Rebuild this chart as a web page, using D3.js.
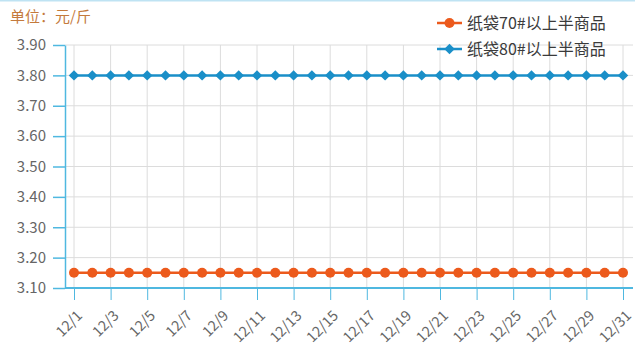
<!DOCTYPE html>
<html>
<head>
<meta charset="utf-8">
<script src="https://cdn.jsdelivr.net/npm/d3@7"></script>
<style>
  body { margin: 0; background: #fff; }
  text { font-family: "Noto Sans CJK SC", "Noto Sans", sans-serif; }
</style>
</head>
<body>
<div class="chart"></div>
<script>
// days of December
const days = d3.range(1, 32);
const labels = days.map(d => "12/" + d);
const tickDays = days.filter(d => d % 2 === 1);
const series70 = days.map(() => 3.15);
const series80 = days.map(() => 3.80);
const yTicks = [3.10, 3.20, 3.30, 3.40, 3.50, 3.60, 3.70, 3.80, 3.90];
const seriesNames = ["纸袋70#以上半商品", "纸袋80#以上半商品"];
const colors = ["#ec5a1c", "#1a8fc8"];

const W = 635, H = 353;
const svg = d3.select('.chart')
    .append('svg')
    .attr("width", W)
    .attr("height", H);

const x = d3.scaleLinear().domain([1, 31]).range([74, 623]);
const y = d3.scaleLinear().domain([3.10, 3.90]).range([288, 45]);

// faint top border
svg.append("line").attr("x1", 0).attr("x2", W).attr("y1", 0.5).attr("y2", 0.5)
    .attr("stroke", "#bfe3f3").attr("stroke-width", 2);

// unit label
svg.append("text").attr("x", 10).attr("y", 22).attr("font-size", 15)
    .attr("fill", "#c47a3c").text("单位：元/斤");

// grid
svg.append("g").selectAll("line").data(yTicks.slice(1)).enter().append("line")
    .attr("x1", 65).attr("x2", 633)
    .attr("y1", d => y(d)).attr("y2", d => y(d))
    .attr("stroke", "#dcdcdc");
svg.append("g").selectAll("line").data(tickDays).enter().append("line")
    .attr("x1", d => x(d)).attr("x2", d => x(d))
    .attr("y1", 45).attr("y2", 288)
    .attr("stroke", "#dcdcdc");

// y axis
const yAxis = svg.append("g").attr("transform", "translate(65,0)")
    .call(d3.axisLeft(y).tickValues(yTicks).tickFormat(d3.format(".2f")).tickSize(12).tickSizeOuter(0));
yAxis.select(".domain").attr("stroke", "#4fb8e0").attr("stroke-width", 1.5);
yAxis.selectAll(".tick line").attr("stroke", "#4fb8e0").attr("stroke-width", 1.5);
yAxis.selectAll(".tick text").attr("font-size", 15).attr("fill", "#666")
    .attr("font-family", "'Noto Sans', sans-serif").attr("x", -19);

// x axis
const xAxis = svg.append("g").attr("transform", "translate(0,288)")
    .call(d3.axisBottom(x).tickValues(tickDays).tickFormat(d => labels[d - 1]).tickSize(12).tickSizeOuter(0));
xAxis.select(".domain").attr("d", "M65,0H633").attr("stroke", "#4fb8e0").attr("stroke-width", 2);
xAxis.selectAll(".tick line").attr("stroke", "#4fb8e0").attr("stroke-width", 1);
xAxis.selectAll(".tick text").attr("font-size", 14.5).attr("fill", "#666")
    .attr("font-family", "'Noto Sans', sans-serif")
    .attr("text-anchor", "end").attr("dy", "0.35em")
    .attr("transform", "translate(5,25) rotate(-45)")
    .attr("y", 0);

// lines
const line = d3.line().x((d, i) => x(days[i])).y(d => y(d));
[series70, series80].forEach((s, k) => {
    svg.append("path").datum(s).attr("d", line)
        .attr("fill", "none").attr("stroke", colors[k]).attr("stroke-width", 2.5);
});

// markers
svg.append("g").selectAll("circle").data(series70).enter().append("circle")
    .attr("cx", (d, i) => x(days[i])).attr("cy", d => y(d)).attr("r", 5)
    .attr("fill", colors[0]);
const diamond = d3.symbol().type(d3.symbolDiamond2).size(70);
svg.append("g").selectAll("path").data(series80).enter().append("path")
    .attr("d", diamond)
    .attr("transform", (d, i) => `translate(${x(days[i])},${y(d)})`)
    .attr("fill", colors[1]);

// legend
const legend = svg.append("g");
seriesNames.forEach((name, k) => {
    const ly = 23 + k * 26;
    legend.append("line").attr("x1", 437).attr("x2", 462).attr("y1", ly).attr("y2", ly)
        .attr("stroke", colors[k]).attr("stroke-width", 2.5);
    if (k === 0) {
        legend.append("circle").attr("cx", 449.5).attr("cy", ly).attr("r", 5).attr("fill", colors[k]);
    } else {
        legend.append("path").attr("d", diamond)
            .attr("transform", `translate(449.5,${ly})`).attr("fill", colors[k]);
    }
    legend.append("text").attr("x", 467).attr("y", ly + 6).attr("font-size", 16)
        .attr("fill", "#3a3a3a").text(name);
});
</script>
</body>
</html>
